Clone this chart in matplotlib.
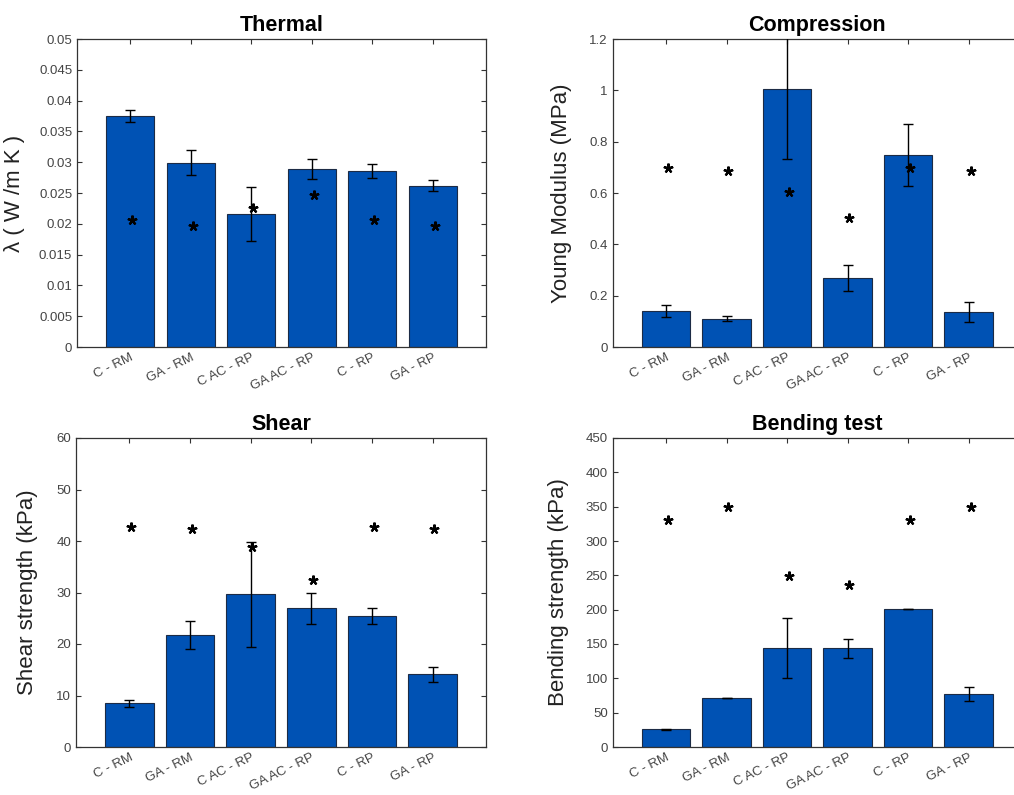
import matplotlib
matplotlib.use('Agg')
import matplotlib.pyplot as plt
import numpy as np

plt.rcParams['font.family'] = ['Liberation Sans', 'DejaVu Sans']

# categories shared by all four panels
samples = ['C - RM', 'GA - RM', 'C AC - RP', 'GA AC - RP', 'C - RP', 'GA - RP']

# thermal conductivity
thermal_mean = [0.0375, 0.0299, 0.0216, 0.0289, 0.0286, 0.0262]
thermal_err = [0.0009, 0.0020, 0.0044, 0.0017, 0.0011, 0.0009]
thermal_star = [0.0206, 0.0197, 0.0226, 0.0247, 0.0206, 0.0197]

# compression - Young modulus
comp_mean = [0.139, 0.110, 1.006, 0.269, 0.749, 0.137]
comp_err = [0.024, 0.010, 0.273, 0.052, 0.120, 0.039]
comp_star = [0.696, 0.685, 0.605, 0.504, 0.696, 0.685]

# shear strength
shear_mean = [8.45, 21.7, 29.7, 26.9, 25.4, 14.1]
shear_err = [0.6, 2.7, 10.2, 3.1, 1.5, 1.5]
shear_star = [42.7, 42.4, 38.8, 32.4, 42.7, 42.4]

# bending strength
bend_mean = [25.8, 71.6, 143.8, 143.8, 200.3, 77.0]
bend_err = [1.0, 0.0, 44.0, 14.0, 0.0, 9.7]
bend_star = [330.5, 350.0, 248.5, 236.4, 330.5, 350.0]

BAR_COLOR = '#0052b4'
W, H = 1014, 795


def panel(rect, title, ylabel, mean, err, star, ylim, yticks, label_x):
    left, top, right, bottom = rect
    ax = fig.add_axes([left / W, 1 - bottom / H, (right - left) / W, (bottom - top) / H])
    x = np.arange(1, len(samples) + 1)
    ax.bar(x, mean, width=0.8, color=BAR_COLOR, edgecolor='#1c2b45', linewidth=0.8, zorder=2)
    ax.errorbar(x, mean, yerr=err, fmt='none', ecolor='black', elinewidth=1.0,
                capsize=3.6, capthick=1.0, zorder=3)
    ax.plot(x + 0.03, star, linestyle='none', marker=(5, 2, 0), markersize=7,
            markeredgewidth=1.6, color='black', zorder=4)
    ax.set_xlim(0.12, 6.88)
    ax.set_ylim(*ylim)
    ax.set_yticks(yticks)
    ax.set_yticklabels(['%g' % v for v in yticks])
    ax.set_xticks(x)
    ax.set_xticklabels(samples, rotation=26, ha='right', va='top', rotation_mode='anchor')
    ax.tick_params(direction='in', top=True, right=True, length=3.5, width=0.8,
                   colors='#333333', labelsize=9.5, labelcolor='#444444')
    ax.tick_params(axis='x', pad=3)
    for s in ax.spines.values():
        s.set_color('#333333')
        s.set_linewidth(0.9)
    ax.set_title(title, fontsize=15.5, fontweight='bold', pad=6)
    ax.set_ylabel(ylabel, fontsize=16, color='#222222')
    ax.yaxis.set_label_coords(label_x, 0.5)
    return ax


fig = plt.figure(figsize=(W / 100, H / 100), dpi=100)

panel((77, 39, 486, 347), 'Thermal', 'λ ( W /m K )', thermal_mean, thermal_err, thermal_star,
      (0, 0.05), np.round(np.arange(0, 0.0501, 0.005), 3), -0.127)
panel((612.7, 39, 1022, 347), 'Compression', 'Young Modulus (MPa)', comp_mean, comp_err, comp_star,
      (0, 1.2), np.round(np.arange(0, 1.21, 0.2), 1), -0.100)
panel((76, 438, 486, 747), 'Shear', 'Shear strength (kPa)', shear_mean, shear_err, shear_star,
      (0, 60), np.arange(0, 61, 10), -0.093)
panel((612.7, 438, 1022, 747), 'Bending test', 'Bending strength (kPa)', bend_mean, bend_err, bend_star,
      (0, 450), np.arange(0, 451, 50), -0.107)

fig.savefig('out.png', dpi=100)
